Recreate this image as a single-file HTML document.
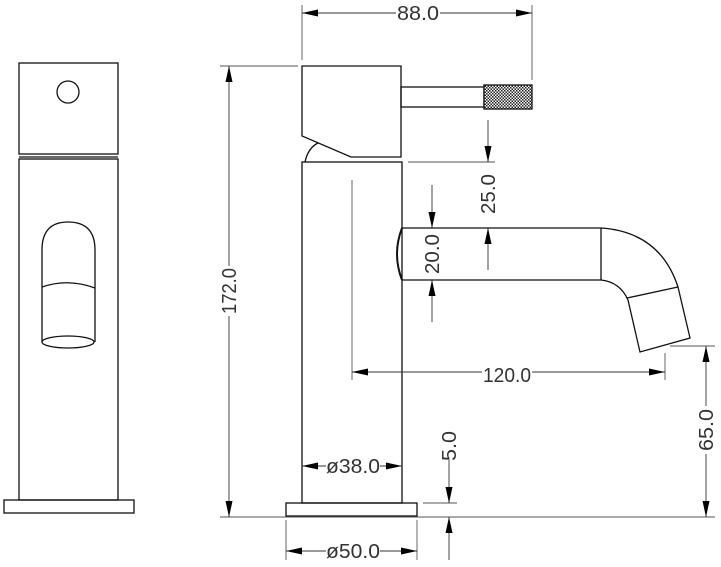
<!DOCTYPE html>
<html><head><style>html,body{margin:0;padding:0;background:#fff}svg{display:block}</style></head>
<body>
<svg width="721" height="567" viewBox="0 0 721 567" xmlns="http://www.w3.org/2000/svg">
<defs>
<marker id="a" viewBox="0 0 16 7" refX="16" refY="3.5" markerWidth="16" markerHeight="7" markerUnits="userSpaceOnUse" orient="auto-start-reverse"><path d="M0,0L16,3.5L0,7z" fill="#000"/></marker>
<pattern id="k" width="3" height="3" patternUnits="userSpaceOnUse"><rect width="3" height="3" fill="#fff"/><rect width="1.5" height="1.5" fill="#222"/><rect x="1.5" y="1.5" width="1.5" height="1.5" fill="#222"/></pattern>
</defs>
<g fill="none" stroke="#111" stroke-width="1.3">
<rect x="19" y="63" width="99" height="91"/>
<circle cx="68" cy="92" r="11"/>
<line x1="19" y1="157" x2="118" y2="157"/>
<rect x="19" y="159" width="99" height="341"/>
<rect x="4" y="500" width="130" height="13"/>
<path d="M42,250 Q42,222 68,222 Q95,222 95,250 L95,342 M42,250 L42,342"/>
<path d="M42,287 Q68,278 95,288"/>
<ellipse cx="68" cy="342" rx="26" ry="6"/>
<path d="M302,66 H401 V157 H351 L302,136 Z"/>
<path d="M305,162 Q308,148 318,143"/>
<rect x="302" y="162" width="100" height="341"/>
<rect x="401" y="87" width="83" height="20"/>
<rect x="484" y="85" width="48" height="24" fill="url(#k)"/>
<path d="M402,228 H601 Q660,232 678,287 L690,338 L640,352 L628,300 Q620,282 601,280 H402"/>
<path d="M402,228 Q392,254 402,280" stroke-width="2"/>
<line x1="601" y1="228" x2="601" y2="280"/>
<line x1="627" y1="298" x2="678" y2="287"/>
<rect x="286" y="503" width="131" height="13"/>
</g>
<g fill="none" stroke="#555" stroke-width="0.9">
<line x1="302" y1="5" x2="302" y2="60"/><line x1="532" y1="5" x2="532" y2="80"/>
<line x1="220" y1="66" x2="298" y2="66"/><line x1="220" y1="517" x2="715" y2="517"/>
<line x1="408" y1="162" x2="495" y2="162"/>
<line x1="352" y1="180" x2="352" y2="380"/><line x1="665" y1="353" x2="665" y2="380"/>
<line x1="670" y1="346" x2="715" y2="346"/>
<line x1="423" y1="503" x2="457" y2="503"/>
<line x1="286" y1="520" x2="286" y2="560"/><line x1="417" y1="520" x2="417" y2="560"/>
</g>
<g stroke="#333" stroke-width="0.9" fill="none">
<line x1="302" y1="13" x2="396" y2="13" marker-start="url(#a)"/><line x1="440" y1="13" x2="532" y2="13" marker-end="url(#a)"/>
<line x1="229" y1="66" x2="229" y2="266" marker-start="url(#a)"/><line x1="229" y1="316" x2="229" y2="517" marker-end="url(#a)"/>
<line x1="488" y1="120" x2="488" y2="162" marker-end="url(#a)"/><line x1="488" y1="270" x2="488" y2="228" marker-end="url(#a)"/>
<line x1="432" y1="185" x2="432" y2="228" marker-end="url(#a)"/><line x1="432" y1="322" x2="432" y2="280" marker-end="url(#a)"/>
<line x1="352" y1="372" x2="482" y2="372" marker-start="url(#a)"/><line x1="532" y1="372" x2="665" y2="372" marker-end="url(#a)"/>
<line x1="706" y1="346" x2="706" y2="406" marker-start="url(#a)"/><line x1="706" y1="454" x2="706" y2="517" marker-end="url(#a)"/>
<line x1="302" y1="466" x2="326" y2="466" marker-start="url(#a)"/><line x1="380" y1="466" x2="402" y2="466" marker-end="url(#a)"/>
<line x1="449" y1="460" x2="449" y2="503" marker-end="url(#a)"/><line x1="449" y1="560" x2="449" y2="517" marker-end="url(#a)"/>
<line x1="286" y1="551" x2="326" y2="551" marker-start="url(#a)"/><line x1="380" y1="551" x2="417" y2="551" marker-end="url(#a)"/>
</g>
<g font-family="Liberation Sans, sans-serif" font-size="20" fill="#333" text-anchor="middle">
<text x="418" y="20" textLength="42" lengthAdjust="spacingAndGlyphs">88.0</text>
<text x="507" y="382" textLength="48" lengthAdjust="spacingAndGlyphs">120.0</text>
<text x="353" y="473" textLength="54" lengthAdjust="spacingAndGlyphs">ø38.0</text>
<text x="353" y="558" textLength="54" lengthAdjust="spacingAndGlyphs">ø50.0</text>
<text transform="translate(236,291) rotate(-90)" textLength="46" lengthAdjust="spacingAndGlyphs">172.0</text>
<text transform="translate(495,194) rotate(-90)" textLength="40" lengthAdjust="spacingAndGlyphs">25.0</text>
<text transform="translate(439,254) rotate(-90)" textLength="40" lengthAdjust="spacingAndGlyphs">20.0</text>
<text transform="translate(713,430) rotate(-90)" textLength="42" lengthAdjust="spacingAndGlyphs">65.0</text>
<text transform="translate(456,446) rotate(-90)" textLength="30" lengthAdjust="spacingAndGlyphs">5.0</text>
</g>
</svg>
</body></html>
